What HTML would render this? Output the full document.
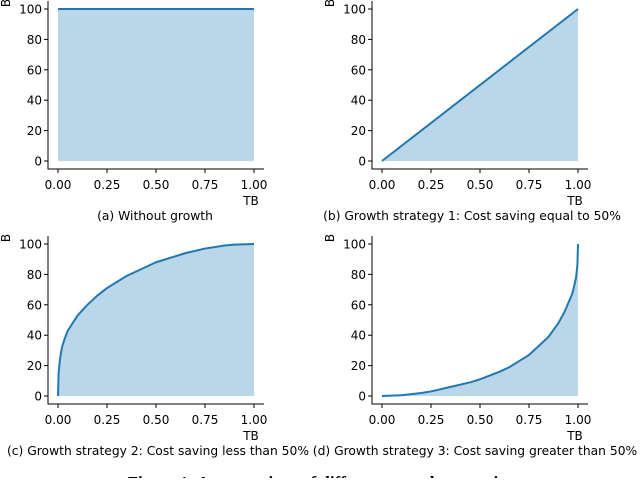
<!DOCTYPE html>
<html><head><meta charset="utf-8"><style>
body{margin:0;background:#fff;width:640px;height:478px;overflow:hidden}
svg text{font-family:"DejaVu Sans","Liberation Sans",sans-serif;fill:#000}
</style></head><body>
<svg id="fig" width="640" height="478" xmlns="http://www.w3.org/2000/svg">
<text x="320" y="488" text-anchor="middle" style="font-family:'Liberation Serif',serif;font-weight:bold;font-size:17px">Figure 1: A comparison of different growth strategies</text>
</svg>
<script>
const xTicks=[0,0.25,0.5,0.75,1];
const xTickLabels=["0.00","0.25","0.50","0.75","1.00"];
const yTicks=[0,20,40,60,80,100];
const seriesA_x=[0,1];
const seriesA_y=[100,100];
const seriesB_x=[0,1];
const seriesB_y=[0,100];
const seriesC_x=[0,0.003,0.01,0.02,0.035,0.05,0.075,0.1,0.15,0.2,0.25,0.3,0.35,0.4,0.5,0.6,0.65,0.75,0.85,0.9,1];
const seriesC_y=[0,15,24,32,38,43,48,53,60,66,71,75,79,82,88,92,94,97,99,99.6,100];
const seriesD_x=[0,0.1,0.2,0.25,0.35,0.45,0.5,0.6,0.65,0.7,0.75,0.8,0.85,0.9,0.93,0.95,0.97,0.98,0.99,0.997,1];
const seriesD_y=[0,0.5,2,3,6,9,11,16,19,23,27,33,39,48,55,61,67,72,78,86,100];
const captions=["(a) Without growth","(b) Growth strategy 1: Cost saving equal to 50%","(c) Growth strategy 2: Cost saving less than 50%","(d) Growth strategy 3: Cost saving greater than 50%"];
const panels=[
 {name:'a',x0:58,y0:161,xs:seriesA_x,ys:seriesA_y,cx:155},
 {name:'b',x0:382,y0:161,xs:seriesB_x,ys:seriesB_y,cx:472},
 {name:'c',x0:58,y0:396,xs:seriesC_x,ys:seriesC_y,cx:158},
 {name:'d',x0:382,y0:396,xs:seriesD_x,ys:seriesD_y,cx:475}];
const svg=document.getElementById('fig');
const NS='http://www.w3.org/2000/svg';
function mk(t,a,p){const e=document.createElementNS(NS,t);for(const k in a)e.setAttribute(k,a[k]);(p||svg).appendChild(e);return e;}
panels.forEach((p,i)=>{
 const W=196,H=152;
 const sx=v=>p.x0+v*W, sy=v=>p.y0-v/100*H;
 const g=mk('g',{});
 
 
 let pts=p.xs.map((x,j)=>sx(x)+','+sy(p.ys[j]));
 const area=mk('polygon',{points:sx(p.xs[0])+','+sy(0)+' '+pts.join(' ')+' '+sx(p.xs[p.xs.length-1])+','+sy(0),fill:'#bad6e9'},g);
 
 
 const ln=mk('polyline',{points:pts.join(' '),fill:'none',stroke:'#1f77b4','stroke-width':2,'stroke-linejoin':'round'},g);
 
 
 const L=p.x0-10,B=p.y0+8;
 const ax=mk('path',{d:`M${L},${p.y0-H-8}V${B}H${p.x0+W+10}`,fill:'none',stroke:'#000','stroke-width':1},g);
 
 
 xTicks.forEach((t,k)=>{
  mk('line',{x1:sx(t),x2:sx(t),y1:B,y2:B+4,stroke:'#000'},g);
  const tx=mk('text',{x:sx(t),y:B+20,'text-anchor':'middle','font-size':12},g);
  tx.textContent=xTickLabels[k];
  
  
 });
 yTicks.forEach(t=>{
  mk('line',{x1:L-4,x2:L,y1:sy(t),y2:sy(t),stroke:'#000'},g);
  const tx=mk('text',{x:L-6,y:sy(t)+4.5,'text-anchor':'end','font-size':12},g);
  tx.textContent=t;
  
  
 });
 const xl=mk('text',{x:p.x0+W-3,y:B+36,'text-anchor':'middle','font-size':12},g);
 xl.textContent='TB';
 
 
 const yl=mk('text',{x:0,y:0,transform:`translate(${L-38},${p.y0-H-6}) rotate(-90)`,'text-anchor':'middle','font-size':12},g);
 yl.textContent='B';
 
 
 const cp=mk('text',{x:p.cx,y:B+51,'text-anchor':'middle','font-size':12.3},g);
 cp.textContent=captions[i];
 
 
});
</script>
</body></html>
